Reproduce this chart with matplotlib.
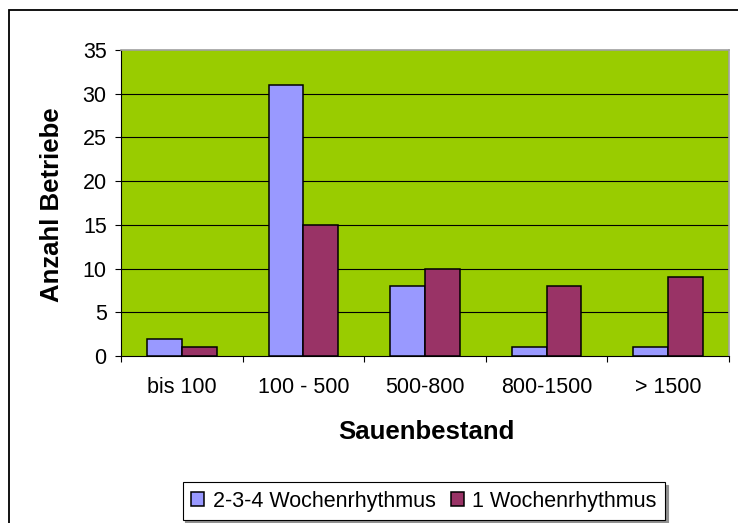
import numpy as np
import matplotlib
matplotlib.use("Agg")
import matplotlib.pyplot as plt
from matplotlib.patches import Rectangle

# Daten
kategorien = ["bis 100", "100 - 500", "500-800", "800-1500", "> 1500"]
rhythmus_234 = [2, 31, 8, 1, 1]
rhythmus_1 = [1, 15, 10, 8, 9]
serien = ["2-3-4 Wochenrhythmus", "1 Wochenrhythmus"]
yticks = [0, 5, 10, 15, 20, 25, 30, 35]

plt.rcParams['font.family'] = ['Liberation Sans', 'DejaVu Sans']

W, H = 738, 523
fig = plt.figure(figsize=(W / 100, H / 100), dpi=100)
ax = fig.add_axes([121 / W, 1 - 356 / H, (729 - 121) / W, (356 - 50) / H])
ax.set_facecolor('#99CC00')

x = np.arange(len(kategorien))
bw = 1 / 3.5
ax.bar(x - bw / 2, rhythmus_234, bw, color='#9999FF', edgecolor='black', linewidth=1.1,
       label=serien[0], zorder=3)
ax.bar(x + bw / 2, rhythmus_1, bw, color='#993366', edgecolor='black', linewidth=1.1,
       label=serien[1], zorder=3)

ax.set_xlim(-0.5, len(kategorien) - 0.5)
ax.set_ylim(0, 35)
ax.set_yticks(yticks)
ax.tick_params(axis='y', direction='out', length=4.3, width=0.8, pad=6, labelsize=15.5)

# Ticks an den Kategoriegrenzen, Beschriftung in der Mitte
ax.set_xticks(np.arange(-0.5, len(kategorien)), labels=[''] * (len(kategorien) + 1))
ax.set_xticks(x, labels=kategorien, minor=True)
ax.tick_params(axis='x', which='major', direction='out', length=4.3, width=0.8)
ax.tick_params(axis='x', which='minor', length=0, pad=15, labelsize=15.5)

for v in yticks[1:-1]:
    ax.axhline(v, color='black', linewidth=0.8, zorder=1)

for s in ['top', 'right']:
    ax.spines[s].set_color('#A0A0A0')
    ax.spines[s].set_linewidth(1.2)
ax.spines['left'].set_linewidth(0.8)
ax.spines['bottom'].set_linewidth(0.8)

fig.text(52 / W, 1 - 205 / H, "Anzahl Betriebe", rotation=90, ha='center', va='center',
         fontsize=18.5, fontweight='bold')
fig.text(426 / W, 1 - 432 / H, "Sauenbestand", ha='center', va='center',
         fontsize=18.5, fontweight='bold')

leg = fig.legend(loc='center', bbox_to_anchor=(424 / W, 1 - 501 / H), ncol=2,
                 fontsize=15.5, frameon=True, fancybox=False, edgecolor='black',
                 handlelength=0.6, handleheight=0.6, handletextpad=0.4,
                 columnspacing=0.7, borderpad=0.4,
                 shadow={'color': '#909090', 'alpha': 1})
leg.get_frame().set_linewidth(0.8)

# Rahmen um das Diagramm
fig.add_artist(Rectangle((9 / W, -0.1), 2, 1 - 10 / H + 0.1, transform=fig.transFigure,
                         fill=False, edgecolor='black', linewidth=1.3))

fig.savefig('out.png', dpi=100)
